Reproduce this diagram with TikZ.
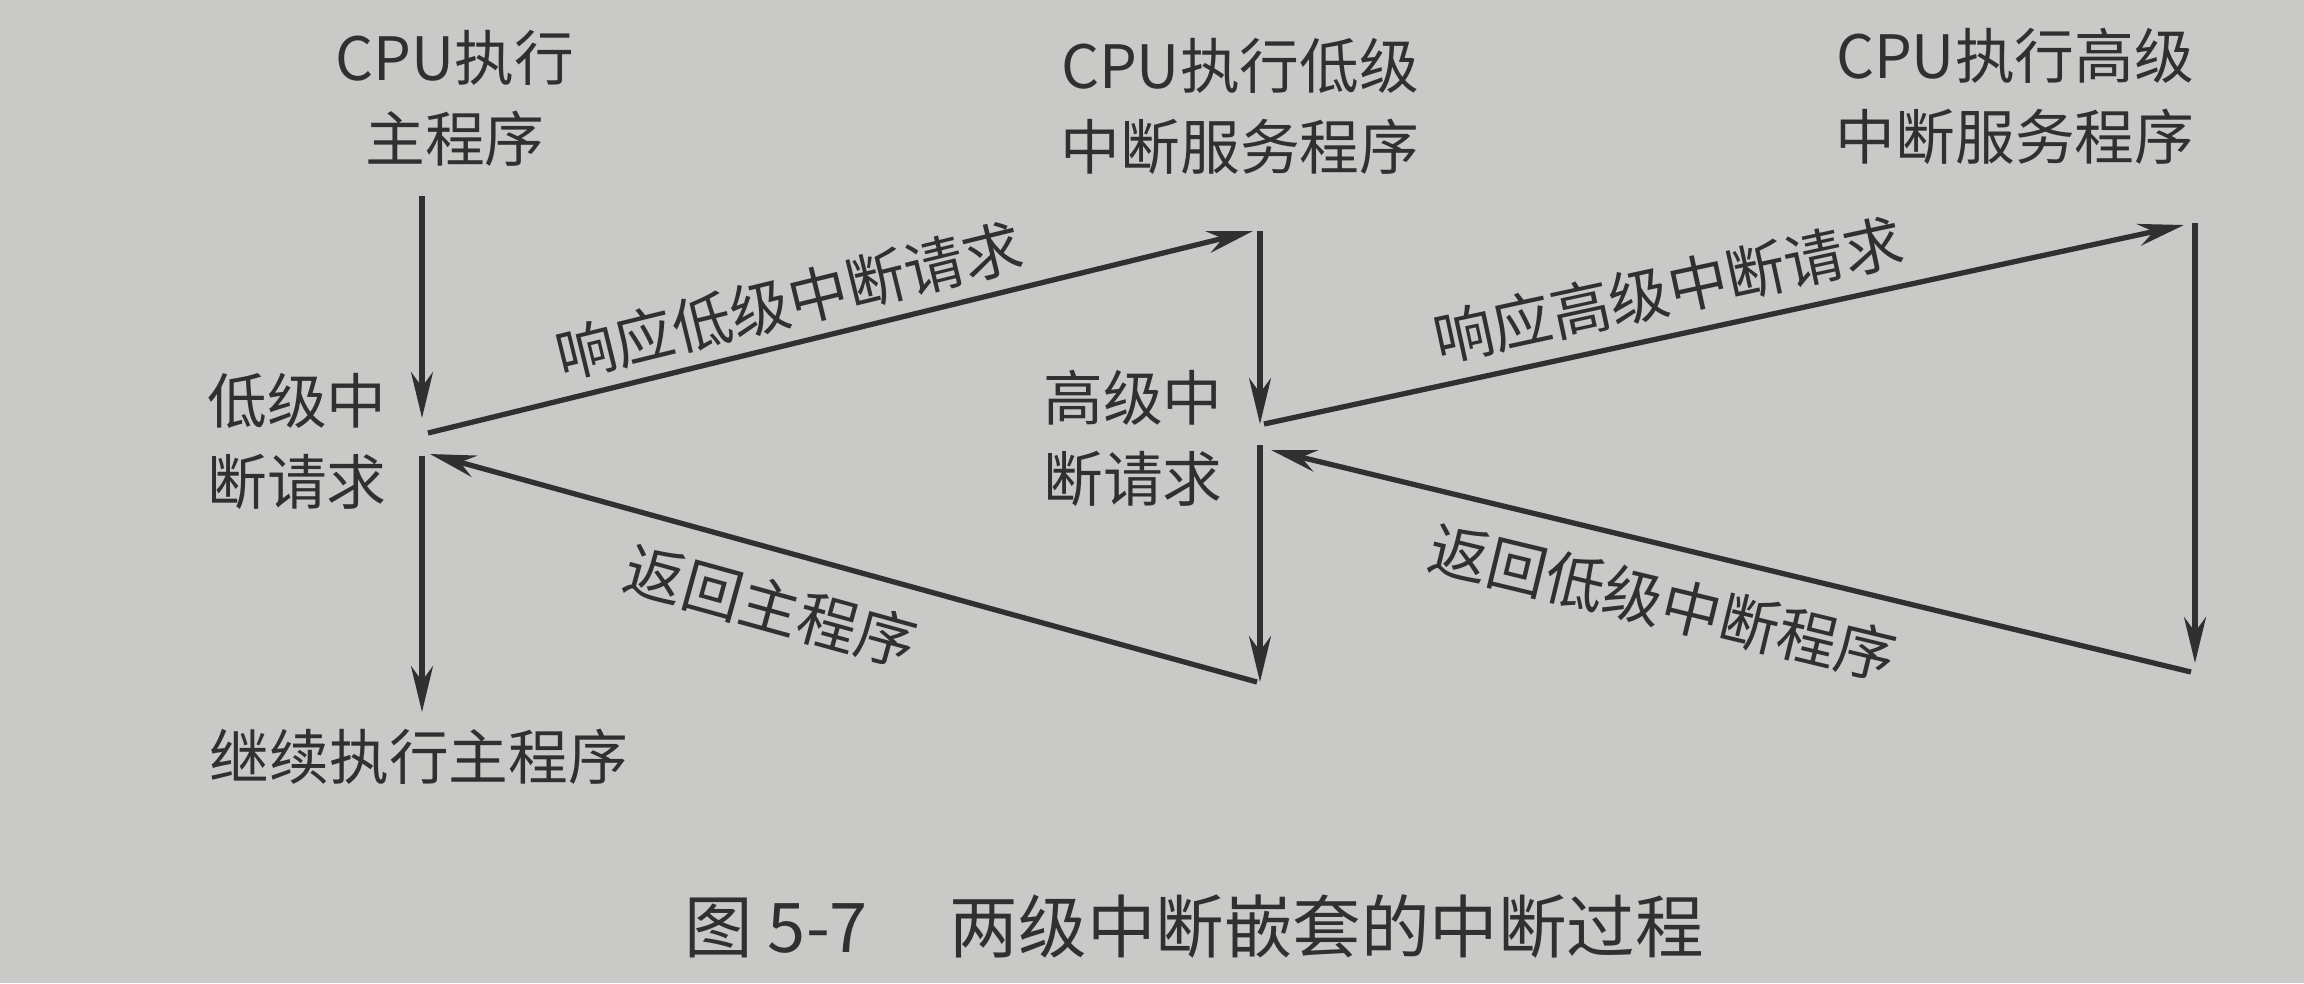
\documentclass[tikz,border=0pt]{standalone}
\usepackage{fontspec}
\setmainfont{Noto Sans CJK SC}
\usetikzlibrary{arrows.meta}
\usepackage{xcolor}
\definecolor{paper}{HTML}{C9C9C7}
\definecolor{ink}{HTML}{303030}

\begin{document}
\begin{tikzpicture}[font=\fontsize{17}{23}\selectfont, text=ink,
    flow/.style={-{Stealth[length=0.46cm,width=0.22cm]}, line width=1.5pt, color=ink},
    lbl/.style={align=center}]
  \fill[paper] (0,0) rectangle (23.04,9.83);
  \useasboundingbox (0,0) rectangle (23.04,9.83);
  % labels
  \node[lbl] (main) at (4.55,8.85) {CPU执行\\主程序};
  \node[lbl] (lowsrv) at (12.40,8.77) {CPU执行低级\\中断服务程序};
  \node[lbl] (highsrv) at (20.15,8.87) {CPU执行高级\\中断服务程序};
  \node[lbl] (lowreq) at (2.97,5.42) {低级中\\断请求};
  \node[lbl] (highreq) at (11.33,5.45) {高级中\\断请求};
  \node[lbl] (cont) at (4.19,2.26) {继续执行主程序};
  \node[font=\fontsize{19.5}{24}\selectfont] (cap) at (11.94,0.57)
    {图 5-7\hspace{1.2em}两级中断嵌套的中断过程};
  % main program line
  \coordinate (m0) at (4.22,7.87);
  \coordinate (m1) at (4.22,5.65);
  \coordinate (m2) at (4.28,5.50);
  \coordinate (m3) at (4.30,5.29);
  \coordinate (m4) at (4.22,5.27);
  \coordinate (m5) at (4.22,2.71);
  % low level service line
  \coordinate (lin) at (12.53,7.52);
  \coordinate (l0) at (12.60,7.52);
  \coordinate (l1) at (12.60,5.59);
  \coordinate (l2) at (12.64,5.59);
  \coordinate (l3) at (12.71,5.33);
  \coordinate (l4) at (12.60,5.38);
  \coordinate (l5) at (12.60,3.01);
  \coordinate (lout) at (12.57,3.01);
  % high level service line
  \coordinate (hin) at (21.84,7.58);
  \coordinate (h0) at (21.95,7.60);
  \coordinate (h1) at (21.95,3.20);
  \coordinate (hout) at (21.91,3.11);
  % arrows
  \draw[flow] (m0) -- (m1);
  \draw[flow] (m2) -- node[pos=0.45,sloped,above] {响应低级中断请求} (lin);
  \draw[flow] (l0) -- (l1);
  \draw[flow] (l2) -- node[pos=0.45,sloped,above=1pt] {响应高级中断请求} (hin);
  \draw[flow] (h0) -- (h1);
  \draw[flow] (hout) -- node[pos=0.56,sloped,below=4pt] {返回低级中断程序} (l3);
  \draw[flow] (l4) -- (l5);
  \draw[flow] (lout) -- node[pos=0.57,sloped,below=4pt] {返回主程序} (m3);
  \draw[flow] (m4) -- (m5);
\end{tikzpicture}
\end{document}
